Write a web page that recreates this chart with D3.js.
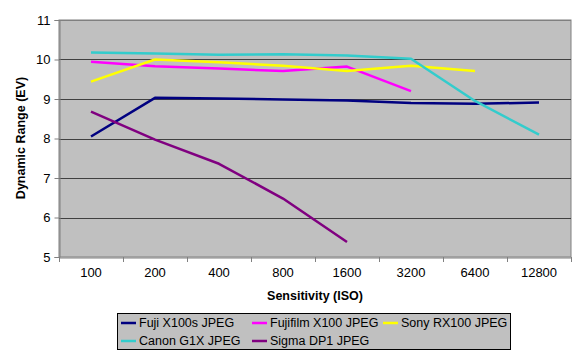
<!DOCTYPE html>
<html><head><meta charset="utf-8">
<script src="https://cdn.jsdelivr.net/npm/d3@7"></script>
<style>body{margin:0;background:#fff;} svg{display:block;font-family:"Liberation Sans",Arial,sans-serif;}</style>
</head><body>
<svg id="c" width="580" height="356"></svg>
<script>
const categories = ["100","200","400","800","1600","3200","6400","12800"];
const yTicks = [5,6,7,8,9,10,11];
const seriesNames = ["Fuji X100s JPEG","Fujifilm X100 JPEG","Sony RX100 JPEG","Canon G1X JPEG","Sigma DP1 JPEG"];
const seriesColors = ["#000080","#ff00ff","#ffff00","#33cccc","#800080"];
const fujiX100s = [8.05,9.03,9.01,8.99,8.96,8.90,8.88,8.91];
const fujiX100 = [9.94,9.83,9.77,9.71,9.82,9.20];
const sonyRX100 = [9.44,10.0,9.93,9.84,9.71,9.84,9.71];
const canonG1X = [10.18,10.15,10.12,10.13,10.1,10.02,8.95,8.1];
const sigmaDP1 = [8.68,7.97,7.36,6.48,5.38];
const seriesData = [fujiX100s,fujiX100,sonyRX100,canonG1X,sigmaDP1];

const svg = d3.select("#c");
const L=59,R=571,T=20,B=257;
const x = d3.scaleBand().domain(categories).range([L,R]);
const y = d3.scaleLinear().domain([5,11]).range([B,T]);

svg.append("rect").attr("x",L).attr("y",T).attr("width",R-L).attr("height",B-T)
  .attr("fill","#c0c0c0").attr("stroke","#808080").attr("stroke-width",1);

svg.append("g").selectAll("line").data(yTicks.slice(1,-1)).join("line")
  .attr("x1",L).attr("x2",R).attr("y1",d=>Math.round(y(d))+0.5).attr("y2",d=>Math.round(y(d))+0.5)
  .attr("stroke","#404040").attr("stroke-width",1);
svg.append("line").attr("x1",L).attr("x2",R).attr("y1",T+0.5).attr("y2",T+0.5).attr("stroke","#808080");

const yAxis = d3.axisLeft(y).tickValues(yTicks).tickSize(5).tickPadding(4).tickFormat(d3.format("d"));
const gy = svg.append("g").attr("transform",`translate(${L+0.5},0)`).call(yAxis);
gy.select(".domain").attr("stroke","#808080");
gy.selectAll(".tick line").attr("stroke","#808080");
gy.selectAll("text").attr("font-size",13).attr("fill","#000").attr("font-family","Liberation Sans, Arial, sans-serif");

const xAxis = d3.axisBottom(x).tickSize(0).tickPadding(10);
const gx = svg.append("g").attr("transform",`translate(0,${B+0.5})`).call(xAxis);
gx.select(".domain").attr("stroke","#808080");
gx.selectAll("text").attr("font-size",13).attr("fill","#000").attr("font-family","Liberation Sans, Arial, sans-serif");
const bounds = categories.map(c=>x(c)).concat([R]);
svg.append("g").selectAll("line").data(bounds).join("line")
  .attr("x1",d=>Math.round(d)+0.5).attr("x2",d=>Math.round(d)+0.5).attr("y1",B).attr("y2",B+5)
  .attr("stroke","#808080");

const line = d3.line().x((d,i)=>x(categories[i])+x.bandwidth()/2).y(d=>y(d));
svg.append("g").selectAll("path").data(seriesData).join("path")
  .attr("d",d=>line(d)).attr("fill","none")
  .attr("stroke",(d,i)=>seriesColors[i]).attr("stroke-width",2.5).attr("stroke-linejoin","round");

svg.append("text").attr("x",315).attr("y",300).attr("text-anchor","middle")
  .attr("font-size",12.5).attr("font-weight","bold").text("Sensitivity (ISO)");
svg.append("text").attr("transform","translate(25,138) rotate(-90)").attr("text-anchor","middle")
  .attr("font-size",12.5).attr("font-weight","bold").text("Dynamic Range (EV)");

const lg = svg.append("g");
lg.append("rect").attr("x",117.5).attr("y",313.5).attr("width",393).attr("height",36)
  .attr("fill","#c0c0c0").attr("stroke","#000").attr("stroke-width",1);
const pos = [[121,323],[252,323],[383,323],[121,341],[252,341]];
seriesNames.forEach((n,i)=>{
  const [px,py]=pos[i];
  lg.append("line").attr("x1",px).attr("x2",px+15).attr("y1",py).attr("y2",py)
    .attr("stroke",seriesColors[i]).attr("stroke-width",2.5);
  lg.append("text").attr("x",px+18).attr("y",py+4).attr("font-size",12.5).text(n);
});
</script>
</body></html>
